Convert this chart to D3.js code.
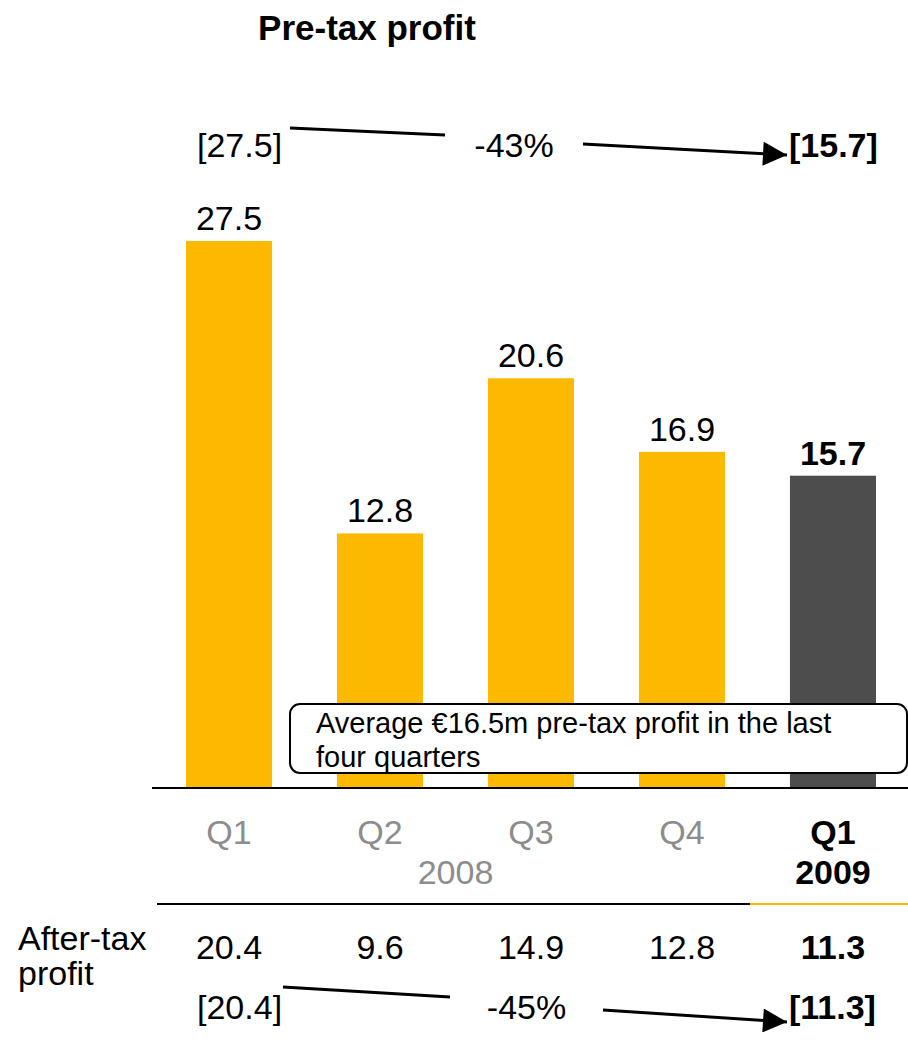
<!DOCTYPE html>
<html>
<head>
<meta charset="utf-8">
<script src="https://cdn.jsdelivr.net/npm/d3@7"></script>
<style>
  body { margin: 0; background: #fff; }
  svg { display: block; font-family: "Liberation Sans", Arial, sans-serif; }
</style>
</head>
<body>
<div id="chart"></div>
<script>
// Chart data
const quarters = ["Q1 2008", "Q2 2008", "Q3 2008", "Q4 2008", "Q1 2009"];
const quarterLabels = ["Q1", "Q2", "Q3", "Q4", "Q1"];
const preTaxProfit = [27.5, 12.8, 20.6, 16.9, 15.7];
const afterTaxProfit = [20.4, 9.6, 14.9, 12.8, 11.3];
const preTaxChange = "-43%";
const afterTaxChange = "-45%";
const calloutLines = ["Average €16.5m pre-tax profit in the last", "four quarters"];

const width = 908;
const height = 1043;
const baseline = 788;

const yellow = "#fdb900";
const dark = "#4d4d4d";
const grey = "#8c8c8c";

const svg = d3
  .select("#chart")
  .append("svg")
  .attr("width", width)
  .attr("height", height);

const x = d3
  .scaleBand()
  .domain(quarters)
  .range([110.5, 951.5])
  .paddingInner(0.43)
  .paddingOuter(0.5);

const y = d3.scaleLinear().domain([0, 27.5]).range([baseline, 241]);

const cx = (i) => x(quarters[i]) + x.bandwidth() / 2;
const isLast = (i) => i === quarters.length - 1;

// Title
svg
  .append("text")
  .attr("x", 367)
  .attr("y", 40)
  .attr("text-anchor", "middle")
  .style("font-size", "35px")
  .style("font-weight", "bold")
  .text("Pre-tax profit");

// Bars
svg
  .selectAll("rect.bar")
  .data(preTaxProfit)
  .enter()
  .append("rect")
  .attr("class", "bar")
  .attr("x", (d, i) => x(quarters[i]))
  .attr("y", (d) => y(d))
  .attr("width", x.bandwidth())
  .attr("height", (d) => baseline - y(d))
  .attr("fill", (d, i) => (isLast(i) ? dark : yellow));

// Value labels
svg
  .selectAll("text.value")
  .data(preTaxProfit)
  .enter()
  .append("text")
  .attr("class", "value")
  .attr("x", (d, i) => cx(i))
  .attr("y", (d) => y(d) - 11)
  .attr("text-anchor", "middle")
  .style("font-size", "34px")
  .style("font-weight", (d, i) => (isLast(i) ? "bold" : "normal"))
  .text((d) => d.toFixed(1));

// Callout box
const callout = svg.append("g");
callout
  .append("rect")
  .attr("x", 290)
  .attr("y", 704)
  .attr("width", 617)
  .attr("height", 69)
  .attr("rx", 10)
  .attr("fill", "#fff")
  .attr("stroke", "#000")
  .attr("stroke-width", 2);
callout
  .selectAll("text")
  .data(calloutLines)
  .enter()
  .append("text")
  .attr("x", 316)
  .attr("y", (d, i) => 733 + i * 34)
  .style("font-size", "29px")
  .text((d) => d);

// Axis line
svg
  .append("line")
  .attr("x1", 152)
  .attr("x2", width)
  .attr("y1", baseline)
  .attr("y2", baseline)
  .attr("stroke", "#000")
  .attr("stroke-width", 2);

// Category labels
svg
  .selectAll("text.cat")
  .data(quarterLabels)
  .enter()
  .append("text")
  .attr("class", "cat")
  .attr("x", (d, i) => cx(i))
  .attr("y", 844)
  .attr("text-anchor", "middle")
  .style("font-size", "34px")
  .style("font-weight", (d, i) => (isLast(i) ? "bold" : "normal"))
  .attr("fill", (d, i) => (isLast(i) ? "#000" : grey))
  .text((d) => d);

svg
  .append("text")
  .attr("x", (cx(0) + cx(3)) / 2)
  .attr("y", 884)
  .attr("text-anchor", "middle")
  .style("font-size", "34px")
  .attr("fill", grey)
  .text("2008");

svg
  .append("text")
  .attr("x", cx(4))
  .attr("y", 884)
  .attr("text-anchor", "middle")
  .style("font-size", "34px")
  .style("font-weight", "bold")
  .text("2009");

// Separator line
const splitX = x(quarters[4]) - 40;
svg
  .append("line")
  .attr("x1", 157)
  .attr("x2", splitX)
  .attr("y1", 904)
  .attr("y2", 904)
  .attr("stroke", "#000")
  .attr("stroke-width", 2);
svg
  .append("line")
  .attr("x1", splitX)
  .attr("x2", width)
  .attr("y1", 904)
  .attr("y2", 904)
  .attr("stroke", yellow)
  .attr("stroke-width", 2);

// After-tax row
svg
  .selectAll("text.after-label")
  .data(["After-tax", "profit"])
  .enter()
  .append("text")
  .attr("x", 18)
  .attr("y", (d, i) => 950 + i * 35)
  .style("font-size", "34px")
  .text((d) => d);

svg
  .selectAll("text.after")
  .data(afterTaxProfit)
  .enter()
  .append("text")
  .attr("class", "after")
  .attr("x", (d, i) => cx(i))
  .attr("y", 959)
  .attr("text-anchor", "middle")
  .style("font-size", "34px")
  .style("font-weight", (d, i) => (isLast(i) ? "bold" : "normal"))
  .text((d) => d.toFixed(1));

// Change arrows
svg
  .append("defs")
  .append("marker")
  .attr("id", "arrow")
  .attr("viewBox", "0 0 10 10")
  .attr("refX", 10)
  .attr("refY", 5)
  .attr("markerWidth", 9)
  .attr("markerHeight", 8)
  .attr("markerUnits", "strokeWidth")
  .attr("orient", "auto")
  .append("path")
  .attr("d", "M0,0L10,5L0,10Z")
  .attr("fill", "#000");

function changeRow(first, last, change, textY, seg1, seg2) {
  svg
    .append("text")
    .attr("x", cx(0) - 32)
    .attr("y", textY)
    .style("font-size", "34px")
    .text(`[${first.toFixed(1)}]`);
  svg
    .append("text")
    .attr("x", seg1[1][0] + (seg2[0][0] - seg1[1][0]) / 2)
    .attr("y", textY)
    .attr("text-anchor", "middle")
    .style("font-size", "34px")
    .text(change);
  svg
    .append("text")
    .attr("x", seg2[1][0] + 2)
    .attr("y", textY)
    .style("font-size", "34px")
    .style("font-weight", "bold")
    .text(`[${last.toFixed(1)}]`);
  svg
    .append("line")
    .attr("x1", seg1[0][0])
    .attr("y1", seg1[0][1])
    .attr("x2", seg1[1][0])
    .attr("y2", seg1[1][1])
    .attr("stroke", "#000")
    .attr("stroke-width", 3);
  svg
    .append("line")
    .attr("x1", seg2[0][0])
    .attr("y1", seg2[0][1])
    .attr("x2", seg2[1][0])
    .attr("y2", seg2[1][1])
    .attr("stroke", "#000")
    .attr("stroke-width", 3)
    .attr("marker-end", "url(#arrow)");
}

changeRow(preTaxProfit[0], preTaxProfit[4], preTaxChange, 157,
  [[290, 128], [445, 135]], [[583, 144], [787, 155]]);
changeRow(afterTaxProfit[0], afterTaxProfit[4], afterTaxChange, 1019,
  [[283, 987], [450, 997]], [[603, 1010], [787, 1022]]);
</script>
</body>
</html>
